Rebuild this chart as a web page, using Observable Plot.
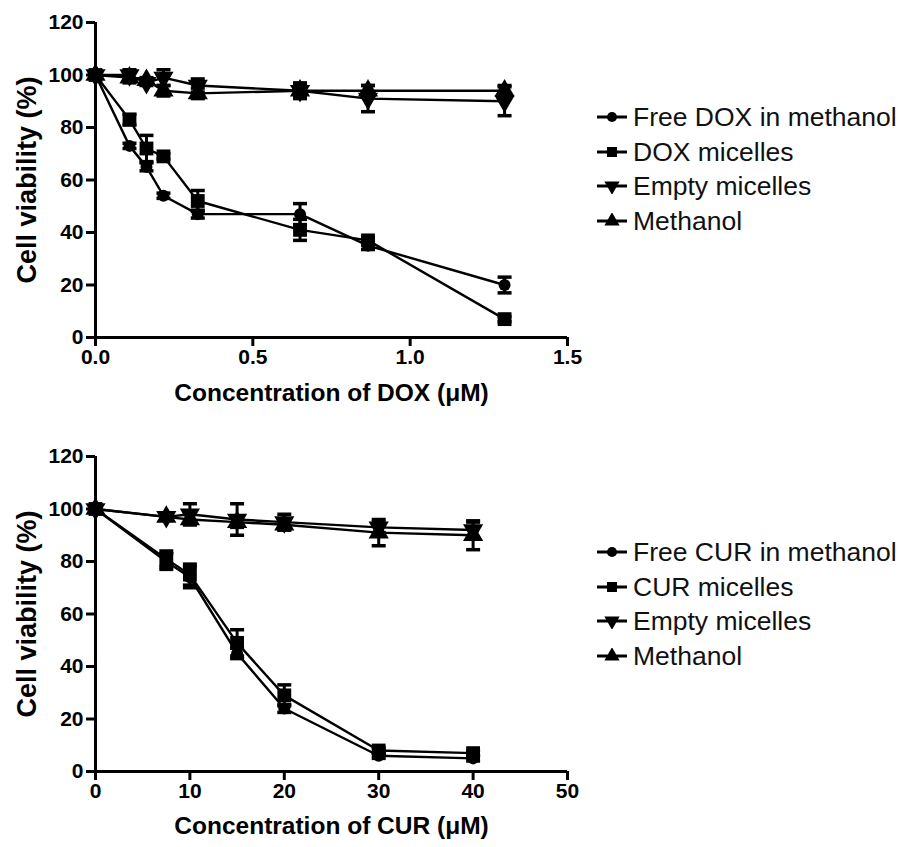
<!DOCTYPE html>
<html><head><meta charset="utf-8">
<script src="https://cdn.jsdelivr.net/npm/d3@7"></script>
<script src="https://cdn.jsdelivr.net/npm/@observablehq/plot@0.6"></script>
<style>
body{margin:0;background:#fff;width:907px;height:847px;position:relative;overflow:hidden;font-family:"Liberation Sans",Arial,sans-serif;}
#top{position:absolute;left:0;top:0}
#bottom{position:absolute;left:0;top:420px}
.legend{position:absolute;left:597px;font-size:26.5px;color:#111;line-height:1}
.legend .row{display:flex;align-items:center;height:34.5px;white-space:nowrap}
.legend svg{margin-right:6px;flex:none}
</style></head><body>
<div id="top"></div><div id="bottom"></div>
<div class="legend" id="legTop" style="top:100px"></div>
<div class="legend" id="legBot" style="top:535px"></div>
<script>
// ---- data ----
const doxConc = [0, 0.108, 0.162, 0.216, 0.325, 0.65, 0.866, 1.3];
const freeDox = [100, 73, 65, 54, 47, 47, 35, 20];
const freeDoxSd = [0, 1, 1.5, 1, 1.5, 4, 1.5, 3];
const doxMic = [100, 83, 72, 69, 52, 41, 37, 7];
const doxMicSd = [0, 2, 5, 1, 4, 4, 1, 1];
const emptyDox = [100, 100, 97, 99, 96, 94, 91, 90];
const emptyDoxSd = [0, 2, 1, 3, 2.5, 3, 5, 5.5];
const methDox = [100, 99, 98, 94, 93, 94, 94, 94];
const methDoxSd = [0, 2, 1, 2, 2, 2, 2, 2];
const doxTicks = [0, 0.5, 1.0, 1.5];
const doxLabels = ["Free DOX in methanol", "DOX micelles", "Empty micelles", "Methanol"];

const curConc = [0, 7.5, 10, 15, 20, 30, 40];
const freeCur = [100, 80, 74, 45, 24, 6, 5];
const freeCurSd = [0, 3, 4, 2, 1.5, 1, 1];
const curMic = [100, 81, 75, 49, 29, 8, 7];
const curMicSd = [0, 3, 4, 5, 4, 1, 1];
const emptyCur = [100, 97, 98, 96, 95, 93, 92];
const emptyCurSd = [0, 1, 4, 6, 3, 2, 3];
const methCur = [100, 97, 96, 95, 94, 91, 90];
const methCurSd = [0, 1, 2, 2, 2, 5, 5.5];
const curTicks = [0, 10, 20, 30, 40, 50];
const curLabels = ["Free CUR in methanol", "CUR micelles", "Empty micelles", "Methanol"];

const yTicks = [0, 20, 40, 60, 80, 100, 120];

// ---- symbols ----
const sqrt3 = Math.sqrt(3);
const triangleDown = {draw(ctx, size) {
  const y = -Math.sqrt(size / (sqrt3 * 3));
  ctx.moveTo(0, -y * 2); ctx.lineTo(-sqrt3 * y, y); ctx.lineTo(sqrt3 * y, y); ctx.closePath();
}};
const capSym = {draw(ctx, size) {
  const w = Math.sqrt(size / Math.PI);
  ctx.moveTo(-w, 0); ctx.lineTo(w, 0);
}};
const symbols = [d3.symbolCircle, d3.symbolSquare, triangleDown, d3.symbolTriangle];
const radii = [6, 7.8, 7.5, 7.5];

const font = '"Liberation Sans", Arial, sans-serif';

function chart({conc, vals, sds, names, ticks, fmt, domain, xLabel, height, marginTop, marginBottom, titleDy}) {
  const seriesRows = vals.map((v, s) => conc.map((x, i) => ({x, y: v[i], sd: sds[s][i], name: names[s]})));
  const all = seriesRows.flat();
  const withErr = all.filter(d => d.sd > 0);
  return Plot.plot({
    width: 590, height, marginLeft: 95, marginRight: 23, marginTop, marginBottom,
    style: {fontFamily: font, color: "black", background: "white", overflow: "visible"},
    x: {domain, axis: null},
    y: {domain: [0, 120], axis: null},
    marks: [
      Plot.line(all, {x: "x", y: "y", z: "name", stroke: "black", strokeWidth: 2.4}),
      Plot.ruleX(withErr, {x: "x", y1: d => d.y - d.sd, y2: d => d.y + d.sd, stroke: "black", strokeWidth: 3}),
      Plot.dot(withErr, {x: "x", y: d => d.y + d.sd, symbol: capSym, r: 7, stroke: "black", strokeWidth: 3.5, fill: "none"}),
      Plot.dot(withErr, {x: "x", y: d => d.y - d.sd, symbol: capSym, r: 7, stroke: "black", strokeWidth: 3.5, fill: "none"}),
      ...seriesRows.map((rows, s) => Plot.dot(rows, {x: "x", y: "y", symbol: symbols[s], r: radii[s], fill: "black", stroke: "none"})),
      Plot.ruleX([domain[0]], {stroke: "black", strokeWidth: 3}),
      Plot.ruleY([0], {stroke: "black", strokeWidth: 3}),
      Plot.axisX({ticks, tickFormat: fmt, tickSize: 9, tickPadding: 3, strokeWidth: 3, fontSize: 21, fontWeight: "bold", label: null}),
      Plot.axisY({ticks: yTicks, tickSize: 9, tickPadding: 3, strokeWidth: 3, fontSize: 21, fontWeight: "bold", label: null}),
      Plot.text([xLabel], {frameAnchor: "bottom", dy: titleDy, fontSize: 24.5, fontWeight: "bold"}),
      Plot.text(["Cell viability (%)"], {frameAnchor: "left", dx: -68, rotate: -90, textAnchor: "middle", fontSize: 27, fontWeight: "bold"})
    ]
  });
}

document.getElementById("top").append(chart({
  conc: doxConc, vals: [freeDox, doxMic, emptyDox, methDox], sds: [freeDoxSd, doxMicSd, emptyDoxSd, methDoxSd],
  names: doxLabels, ticks: doxTicks, fmt: d3.format(".1f"), domain: [0, 1.5],
  xLabel: "Concentration of DOX (μM)", height: 420, marginTop: 22, marginBottom: 83, titleDy: 63
}));
document.getElementById("bottom").append(chart({
  conc: curConc, vals: [freeCur, curMic, emptyCur, methCur], sds: [freeCurSd, curMicSd, emptyCurSd, methCurSd],
  names: curLabels, ticks: curTicks, fmt: d3.format("d"), domain: [0, 50],
  xLabel: "Concentration of CUR (μM)", height: 427, marginTop: 36, marginBottom: 76, titleDy: 62
}));

function legend(id, labels) {
  const el = document.getElementById(id);
  labels.forEach((lab, i) => {
    const row = document.createElement("div");
    row.className = "row";
    const path = d3.symbol(symbols[i], i === 0 ? 80 : 100)();
    row.innerHTML = `<svg width="30" height="16" viewBox="-15 -8 30 16"><line x1="-15" x2="15" y1="0" y2="0" stroke="black" stroke-width="3"/><path d="${path}" fill="black"/></svg><span>${lab}</span>`;
    el.append(row);
  });
}
legend("legTop", doxLabels);
legend("legBot", curLabels);
</script>
</body></html>
